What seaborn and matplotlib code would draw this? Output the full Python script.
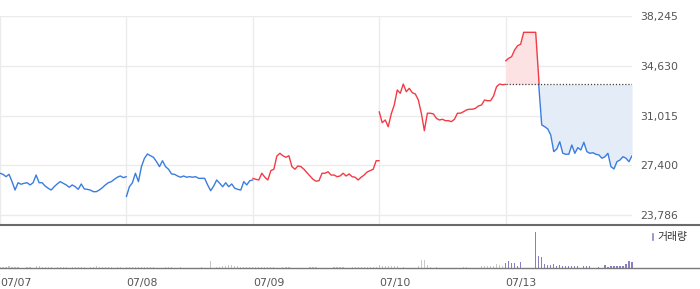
import numpy as np
import pandas as pd
import matplotlib
matplotlib.use('Agg')
import matplotlib.pyplot as plt
import seaborn as sns
from matplotlib.patches import Patch

sns.set_style('white')
plt.rcParams['font.family'] = ['DejaVu Sans']

# 일자 (하루 43개 포인트, 마지막 점 = 다음날 시작 위치)
days = ['07/07', '07/08', '07/09', '07/10', '07/13']
day_color = ['blue', 'blue', 'red', 'red', 'split']

day1 = [26820, 26740, 26570, 26740, 26210, 25600, 26130, 26020, 26090, 26130, 25970, 26130, 26690, 26130, 26130,
        25890, 25730, 25600, 25840, 26040, 26210, 26090, 25970, 25800, 25970, 25840, 25650, 26040, 25680, 25650,
        25600, 25480, 25480, 25600, 25770, 25970, 26130, 26210, 26380, 26530, 26620, 26500, 26570]
day2 = [25120, 25840, 26130, 26820, 26210, 27300, 27910, 28220, 28090, 27980, 27660, 27300, 27730, 27300, 27110,
        26770, 26740, 26620, 26530, 26620, 26530, 26570, 26530, 26570, 26450, 26450, 26450, 25970, 25550, 25890,
        26330, 26090, 25840, 26130, 25840, 26040, 25730, 25650, 25600, 26210, 25970, 26280, 26330]
day3 = [26450, 26380, 26330, 26820, 26530, 26330, 27010, 27110, 28070, 28270, 28090, 27980, 28090, 27300, 27110,
        27350, 27300, 27110, 26860, 26620, 26380, 26240, 26280, 26820, 26820, 26930, 26690, 26690, 26570, 26620,
        26820, 26620, 26770, 26570, 26530, 26330, 26530, 26690, 26910, 27010, 27110, 27730, 27730]
day4 = [31290, 30490, 30690, 30200, 31130, 31780, 32870, 32630, 33300, 32740, 32990, 32670, 32580, 32140, 31180,
        29910, 31180, 31180, 31130, 30810, 30690, 30740, 30640, 30640, 30570, 30740, 31180, 31180, 31290, 31420,
        31470, 31470, 31540, 31710, 31780, 32140, 32090, 32090, 32430, 33110, 33300, 33250, 33280]
day5 = [34980, 35170, 35290, 35780, 36090, 36190, 37060, 37060, 37060, 37060, 37060, 33720, 30330, 30200, 30040,
        29600, 28390, 28580, 29110, 28270, 28200, 28200, 28870, 28270, 28680, 28510, 29070, 28390, 28270, 28310,
        28200, 28150, 27910, 28020, 28270, 27300, 27130, 27660, 27780, 28020, 27910, 27660, 28090]
prices = [day1, day2, day3, day4, day5]
prev_close = 33280
price_ticks = [23786, 27400, 31015, 34630, 38245]

# 거래량 (하루 42개, 마지막 날은 43개)
vol1 = [1500, 1200, 1500, 1800, 1200, 1500, 1200, 0, 0, 1000, 1200, 0, 1800, 2500, 1500, 1200, 1500, 1200, 0, 1200,
        1000, 1500, 1200, 0, 1200, 1000, 1500, 1200, 1200, 0, 1000, 1500, 1800, 1200, 1500, 1200, 1200, 1000, 0, 1000,
        1000, 0]
vol2 = [1200, 1500, 1200, 1000, 1200, 1000, 1200, 1000, 1200, 1000, 0, 0, 0, 1000, 1200, 1000, 0, 0, 1000, 0,
        0, 0, 0, 0, 0, 1000, 0, 0, 7500, 0, 1000, 1500, 1800, 2500, 3000, 3000, 2500, 2000, 1500, 1200,
        1500, 1000]
vol3 = [1500, 1200, 1500, 1000, 1200, 1500, 1200, 1000, 0, 0, 1000, 1200, 1000, 0, 0, 0, 0, 0, 0, 1000,
        1200, 1000, 0, 0, 0, 0, 0, 1000, 1000, 1200, 1000, 0, 0, 1500, 1200, 1500, 1200, 1000, 1200, 1000,
        1200, 1000]
vol4 = [3300, 2500, 2300, 2300, 2300, 2000, 1700, 0, 1500, 0, 0, 0, 0, 2500, 8300, 8000, 3300, 1500, 0, 1500,
        0, 0, 0, 0, 0, 0, 0, 0, 1500, 1500, 0, 0, 0, 0, 1700, 2000, 1700, 2300, 2000, 4000,
        3300, 2000]
vol5 = [5000, 6700, 5000, 5000, 1700, 5700, 0, 0, 0, 0, 36000, 12300, 11000, 4000, 2700, 3000, 4300, 2000, 3500, 2500,
        1700, 1700, 1700, 1700, 1700, 0, 1700, 1700, 1700, 0, 0, 1500, 0, 2700, 1500, 2000, 2300, 2000, 2300, 2500,
        4000, 6700, 5700]

RED = '#f33b45'
BLUE = '#3a7ddf'
RED_FILL = '#fde2e4'
BLUE_FILL = '#e4ecf8'
GRID = '#ebebeb'
TXT = '#555555'
VOL_PAST = '#c8c8c8'
VOL_TODAY = '#8d7cc4'

fig = plt.figure(figsize=(7, 2.89), dpi=100)
ax = fig.add_axes([0, 1 - 225 / 289, 632 / 700, 209.5 / 289])
axv = fig.add_axes([0, 21 / 289, 1, 43 / 289])

# 가격 라인
day_starts = [42 * d for d in range(len(days))]
for d, p in enumerate(prices):
    x = day_starts[d] + np.arange(len(p))
    p = np.array(p)
    if day_color[d] != 'split':
        sns.lineplot(x=x, y=p, color=RED if day_color[d] == 'red' else BLUE, lw=1.0, ax=ax, estimator=None)
        continue
    i = int(np.argmax(p < prev_close))
    t = (p[i - 1] - prev_close) / (p[i - 1] - p[i])
    xc = x[i - 1] + t
    ax.fill_between(x, p, prev_close, where=p >= prev_close, interpolate=True, color=RED_FILL, lw=0)
    ax.fill_between(x, p, prev_close, where=p <= prev_close, interpolate=True, color=BLUE_FILL, lw=0)
    sns.lineplot(x=np.append(x[:i], xc), y=np.append(p[:i], prev_close), color=RED, lw=1.0, ax=ax, estimator=None)
    sns.lineplot(x=np.insert(x[i:], 0, xc), y=np.insert(p[i:], 0, prev_close), color=BLUE, lw=1.0, ax=ax,
                 estimator=None)
    ax.hlines(prev_close, x[0], x[-1], colors='#444444', linestyles=(0, (1, 1.5)), lw=0.9, zorder=3)

n_total = 42 * len(days)
ax.set_xlim(0, n_total)
ax.set_ylim(23059, 38281)
ax.set_yticks(price_ticks)
ax.set_yticklabels([f'{v:,}' for v in price_ticks])
ax.set_xticks(day_starts)
ax.grid(True, color=GRID, lw=1)
ax.set_axisbelow(True)
ax.yaxis.tick_right()
ax.tick_params(axis='y', length=0, pad=6, labelsize=7.8, labelcolor=TXT)
ax.tick_params(axis='x', length=0, labelbottom=False)
for s in ax.spines.values():
    s.set_visible(False)

# 거래량 - 한 칸에 막대 하나 (discrete histplot에 weights)
vols = vol1 + vol2 + vol3 + vol4 + vol5
grp = ['past'] * (42 * 4) + ['today'] * len(vol5)
vdf = pd.DataFrame({'idx': np.arange(len(vols)), 'vol': vols, 'grp': grp})
sns.histplot(data=vdf, x='idx', weights='vol', hue='grp', palette={'past': VOL_PAST, 'today': VOL_TODAY},
             discrete=True, shrink=0.4, multiple='layer', alpha=1, linewidth=0, legend=False, ax=axv)
axv.set_xlim(0, n_total * 700 / 632)
axv.set_ylim(0, 43000)
axv.set_yticks([])
axv.set_xlabel('')
axv.set_ylabel('')
axv.set_xticks(day_starts)
axv.set_xticklabels(days)
for lbl in axv.get_xticklabels():
    lbl.set_ha('left')
axv.tick_params(axis='x', length=3, width=1, color='#666666', pad=4, labelsize=7.8, labelcolor=TXT)
axv.spines['left'].set_visible(False)
axv.spines['right'].set_visible(False)
axv.spines['top'].set_color('#6a6a6a')
axv.spines['top'].set_linewidth(1.5)
axv.spines['bottom'].set_color('#7a7a7a')
axv.spines['bottom'].set_linewidth(1)

fig.legend(handles=[Patch(facecolor=VOL_TODAY)], labels=['거래량'], loc='center left',
           bbox_to_anchor=(651 / 700, 1 - 237 / 289), frameon=False, handlelength=0.3, handleheight=1.0,
           handletextpad=0.3, borderpad=0, borderaxespad=0, labelcolor='#333333',
           prop={'family': ['Noto Sans CJK KR', 'DejaVu Sans'], 'size': 7.8})

fig.savefig('out.png', dpi=100)
